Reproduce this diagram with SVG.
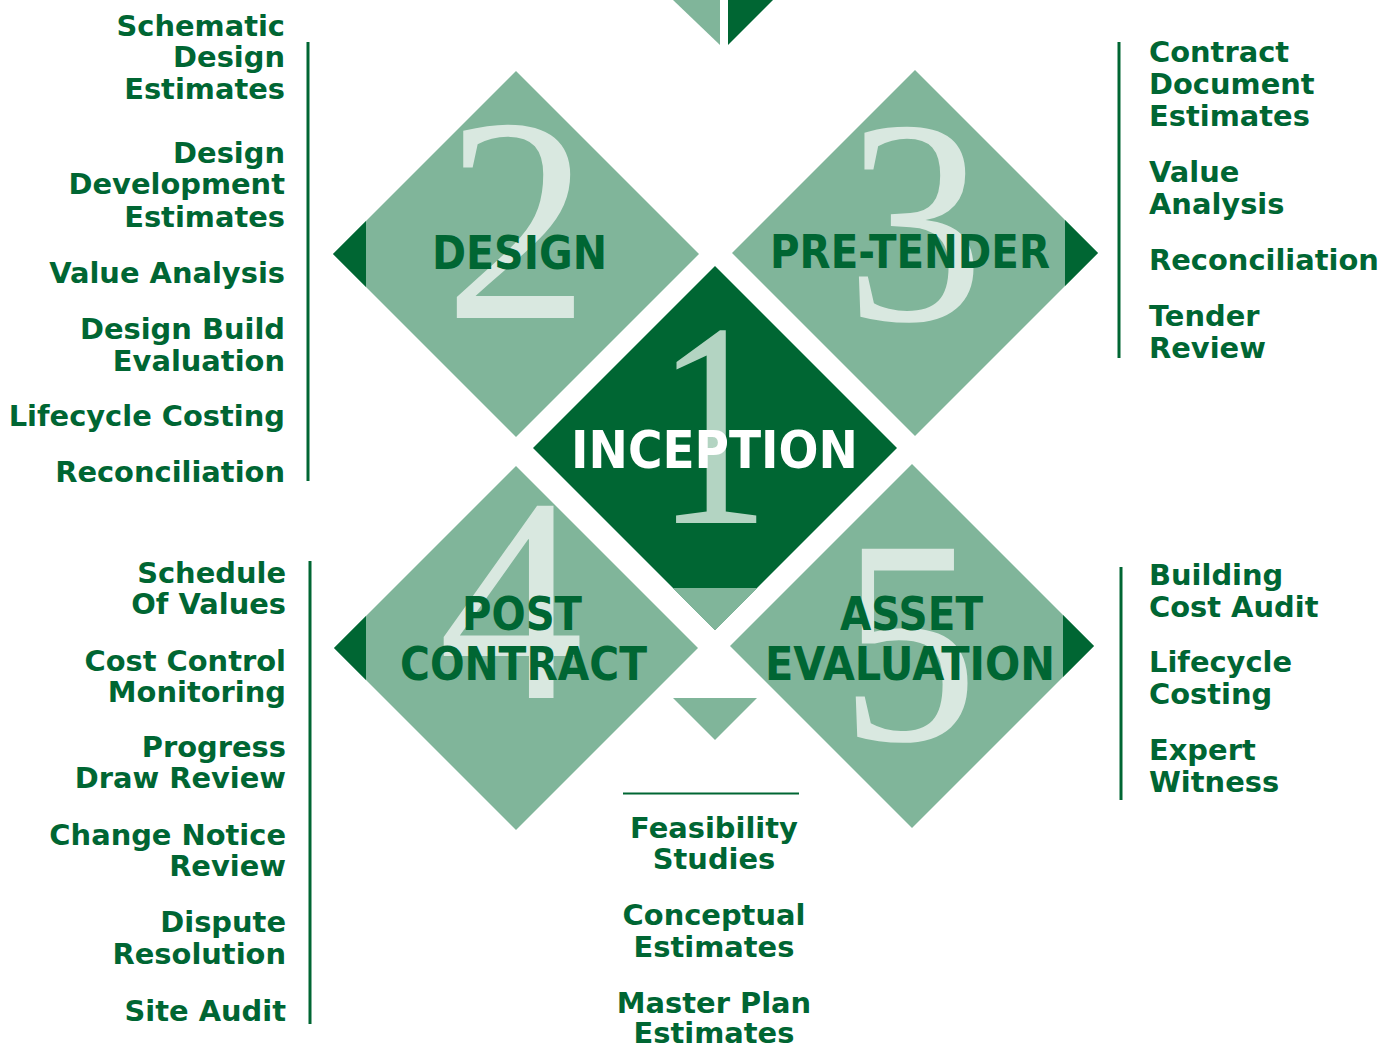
<svg xmlns="http://www.w3.org/2000/svg" width="1392" height="1046" viewBox="0 0 1392 1046">
<style>
.light{fill:#80b59a}
.dark{fill:#006633}
.num{font-family:"Liberation Serif","Times New Roman",serif;font-size:292px;text-anchor:middle}
.numl{fill:#d9e8e0}
.lab{font-family:"DejaVu Sans",sans-serif;font-weight:bold;text-anchor:middle;fill:#006633}
.side{font-family:"DejaVu Sans",Verdana,sans-serif;font-weight:bold;font-size:28.9px;fill:#006633}
.r{text-anchor:end}
.s{text-anchor:start}
.m{text-anchor:middle}
.rule{stroke:#006633;stroke-width:3;fill:none}
</style>
<rect width="1392" height="1046" fill="#ffffff"/>
<g id="arrow-top">
<polygon class="light" points="673,0 720,0 720,45"/>
<polygon class="dark" points="728,0 773,0 728,45"/>
</g>
<g id="node-design">
<polygon class="light" points="516,71 699,254 516,437 333,254"/>
<polygon class="dark" points="333,254 366,221 366,287"/>
<text class="num numl" x="517" y="318">2</text>
<text class="lab" x="519.5" y="269" font-size="46" textLength="175" lengthAdjust="spacingAndGlyphs">DESIGN</text>
</g>
<g id="node-pretender">
<polygon class="light" points="915,70 1098,253 915,436 732,253"/>
<polygon class="dark" points="1065,220 1098,253 1065,286"/>
<text class="num numl" x="915" y="320" transform="translate(915 0) scale(0.95 1) translate(-915 0)">3</text>
<text class="lab" x="910" y="268" font-size="46" textLength="280" lengthAdjust="spacingAndGlyphs">PRE-TENDER</text>
</g>
<g id="node-post">
<polygon class="light" points="516,466 698,648 516,830 334,648"/>
<polygon class="dark" points="334,648 366,616 366,680"/>
<text class="num numl" x="511" y="698">4</text>
<text class="lab" x="522" y="630" font-size="46" textLength="120" lengthAdjust="spacingAndGlyphs">POST</text>
<text class="lab" x="523.5" y="680" font-size="46" textLength="247" lengthAdjust="spacingAndGlyphs">CONTRACT</text>
</g>
<g id="node-asset">
<polygon class="light" points="912,464 1094,646 912,828 730,646"/>
<polygon class="dark" points="1063,615 1094,646 1063,677"/>
<text class="num numl" x="909" y="740" transform="translate(909 0) scale(0.95 1) translate(-909 0)">5</text>
<text class="lab" x="911.5" y="630" font-size="46" textLength="143" lengthAdjust="spacingAndGlyphs">ASSET</text>
<text class="lab" x="910" y="680" font-size="46" textLength="290" lengthAdjust="spacingAndGlyphs">EVALUATION</text>
</g>
<g id="node-inception">
<polygon class="dark" points="715,266 897,448 715,630 533,448"/>
<polygon class="light" points="673,588 757,588 715,630"/>
<text class="num" x="713" y="523" fill="#b3d4c2" transform="translate(713 0) scale(0.78 1) translate(-713 0)">1</text>
<text class="lab" x="714.5" y="468" font-size="52" style="fill:#ffffff" textLength="287" lengthAdjust="spacingAndGlyphs">INCEPTION</text>
</g>
<g id="arrow-bottom">
<polygon class="light" points="673,698 757,698 715,740"/>
</g>
<g id="connectors">
<line class="rule" x1="308" y1="42" x2="308" y2="481"/>
<line class="rule" x1="310" y1="561" x2="310" y2="1024"/>
<line class="rule" x1="1119" y1="42" x2="1119" y2="358"/>
<line class="rule" x1="1121" y1="567" x2="1121" y2="800"/>
<line x1="623" y1="793.5" x2="799" y2="793.5" stroke="#006633" stroke-width="2"/>
</g>
<g id="list-design">
<text class="side r" x="285" y="36">Schematic</text>
<text class="side r" x="285" y="67">Design</text>
<text class="side r" x="285" y="99">Estimates</text>
<text class="side r" x="285" y="163">Design</text>
<text class="side r" x="285" y="194">Development</text>
<text class="side r" x="285" y="227">Estimates</text>
<text class="side r" x="285" y="283">Value Analysis</text>
<text class="side r" x="285" y="339">Design Build</text>
<text class="side r" x="285" y="371">Evaluation</text>
<text class="side r" x="285" y="426">Lifecycle Costing</text>
<text class="side r" x="285" y="482">Reconciliation</text>
</g>
<g id="list-post">
<text class="side r" x="286" y="583">Schedule</text>
<text class="side r" x="286" y="614">Of Values</text>
<text class="side r" x="286" y="671">Cost Control</text>
<text class="side r" x="286" y="702">Monitoring</text>
<text class="side r" x="286" y="757">Progress</text>
<text class="side r" x="286" y="788">Draw Review</text>
<text class="side r" x="286" y="845">Change Notice</text>
<text class="side r" x="286" y="876">Review</text>
<text class="side r" x="286" y="932">Dispute</text>
<text class="side r" x="286" y="964">Resolution</text>
<text class="side r" x="286" y="1021">Site Audit</text>
</g>
<g id="list-pretender">
<text class="side s" x="1149" y="62">Contract</text>
<text class="side s" x="1149" y="94">Document</text>
<text class="side s" x="1149" y="126">Estimates</text>
<text class="side s" x="1149" y="182">Value</text>
<text class="side s" x="1149" y="214">Analysis</text>
<text class="side s" x="1149" y="270">Reconciliation</text>
<text class="side s" x="1149" y="326">Tender</text>
<text class="side s" x="1149" y="358">Review</text>
</g>
<g id="list-asset">
<text class="side s" x="1149" y="585">Building</text>
<text class="side s" x="1149" y="617">Cost Audit</text>
<text class="side s" x="1149" y="672">Lifecycle</text>
<text class="side s" x="1149" y="704">Costing</text>
<text class="side s" x="1149" y="760">Expert</text>
<text class="side s" x="1149" y="792">Witness</text>
</g>
<g id="list-inception">
<text class="side m" x="714" y="838">Feasibility</text>
<text class="side m" x="714" y="869">Studies</text>
<text class="side m" x="714" y="925">Conceptual</text>
<text class="side m" x="714" y="957">Estimates</text>
<text class="side m" x="714" y="1013">Master Plan</text>
<text class="side m" x="714" y="1043">Estimates</text>
</g>
</svg>
